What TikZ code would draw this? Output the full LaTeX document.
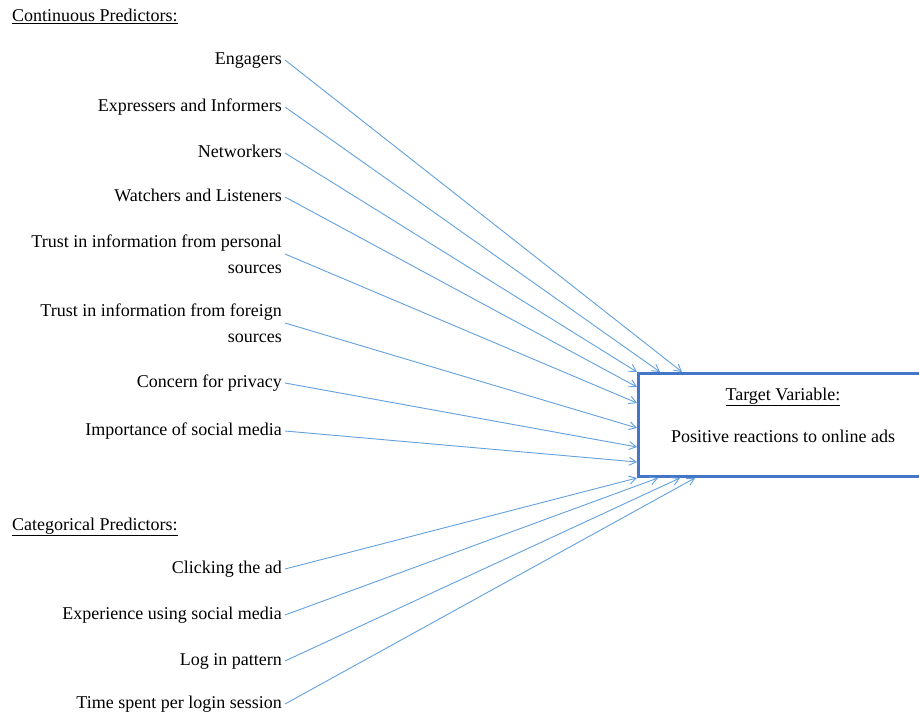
\documentclass[tikz,border=0pt]{standalone}
\usepackage{fontspec}
\setmainfont{Liberation Serif}
\usetikzlibrary{arrows.meta}
\definecolor{linkblue}{RGB}{98,160,222}
\definecolor{boxblue}{RGB}{68,118,200}
\newcommand{\labfont}{\fontsize{18}{26}\selectfont}

\tikzset{
	pred/.style={anchor=east, inner sep=3pt, text height=12.5pt, text depth=4pt, font=\labfont},
	predtwo/.style={anchor=east, inner sep=3pt, align=right, font=\labfont},
	head/.style={anchor=base west, inner sep=0pt, font=\labfont},
	link/.style={draw=linkblue, line width=0.9pt, -{Straight Barb[length=7pt,width=8pt]}},
	targetbox/.style={draw=boxblue, line width=3pt, minimum width=292pt, minimum height=103pt, anchor=north west},
	boxtext/.style={anchor=base, inner sep=0pt, font=\labfont}
}

\begin{document}
\begin{tikzpicture}[x=1pt, y=-1pt]
		%%%%% START %%%%%
		\useasboundingbox (0, 0) rectangle (919, 714);
		
		\node[head] (conthead) at (12, 22) {\underline{Continuous Predictors:}};
		\node[head] (cathead) at (12, 530) {\underline{Categorical Predictors:}};
		
		\node[targetbox] (target) at (637, 372) {};
		\node[boxtext] (tvname) at ([xshift=146pt, yshift=-28pt]target.north west) {\underline{Target Variable:}};
		\node[boxtext] (tvtext) at ([xshift=146pt, yshift=-70pt]target.north west) {Positive reactions to online ads};
		
		% continuous
		\node[pred] (eng) at (285, 60) {Engagers};
		\node[pred] (expr) at (285, 107) {Expressers and Informers};
		\node[pred] (net) at (285, 153) {Networkers};
		\node[pred] (watch) at (285, 197) {Watchers and Listeners};
		\node[predtwo] (trustpers) at (285, 254) {Trust in information from personal\\sources};
		\node[predtwo] (trustfor) at (285, 323) {Trust in information from foreign\\sources};
		\node[pred] (privacy) at (285, 383) {Concern for privacy};
		\node[pred] (import) at (285, 431) {Importance of social media};
		
		% categorical
		\node[pred] (click) at (285, 569) {Clicking the ad};
		\node[pred] (exper) at (285, 615) {Experience using social media};
		\node[pred] (login) at (285, 661) {Log in pattern};
		\node[pred] (session) at (285, 704) {Time spent per login session};
		
		\draw[link] (eng.east) -- ([xshift=45pt]target.north west);
		\draw[link] (expr.east) -- ([xshift=23pt]target.north west);
		\draw[link] (net.east) -- (target.north west);
		\draw[link] (watch.east) -- ([yshift=-15pt]target.north west);
		\draw[link] (trustpers.east) -- ([yshift=-31pt]target.north west);
		\draw[link] (trustfor.east) -- ([yshift=-56pt]target.north west);
		\draw[link] (privacy.east) -- ([yshift=-75pt]target.north west);
		\draw[link] (import.east) -- ([yshift=-90pt]target.north west);
		
		\draw[link] (click.east) -- (target.south west);
		\draw[link] (exper.east) -- ([xshift=21pt]target.south west);
		\draw[link] (login.east) -- ([xshift=43pt]target.south west);
		\draw[link] (session.east) -- ([xshift=58pt]target.south west);
		
		%%%%% END %%%%%
	\end{tikzpicture}
\end{document}
